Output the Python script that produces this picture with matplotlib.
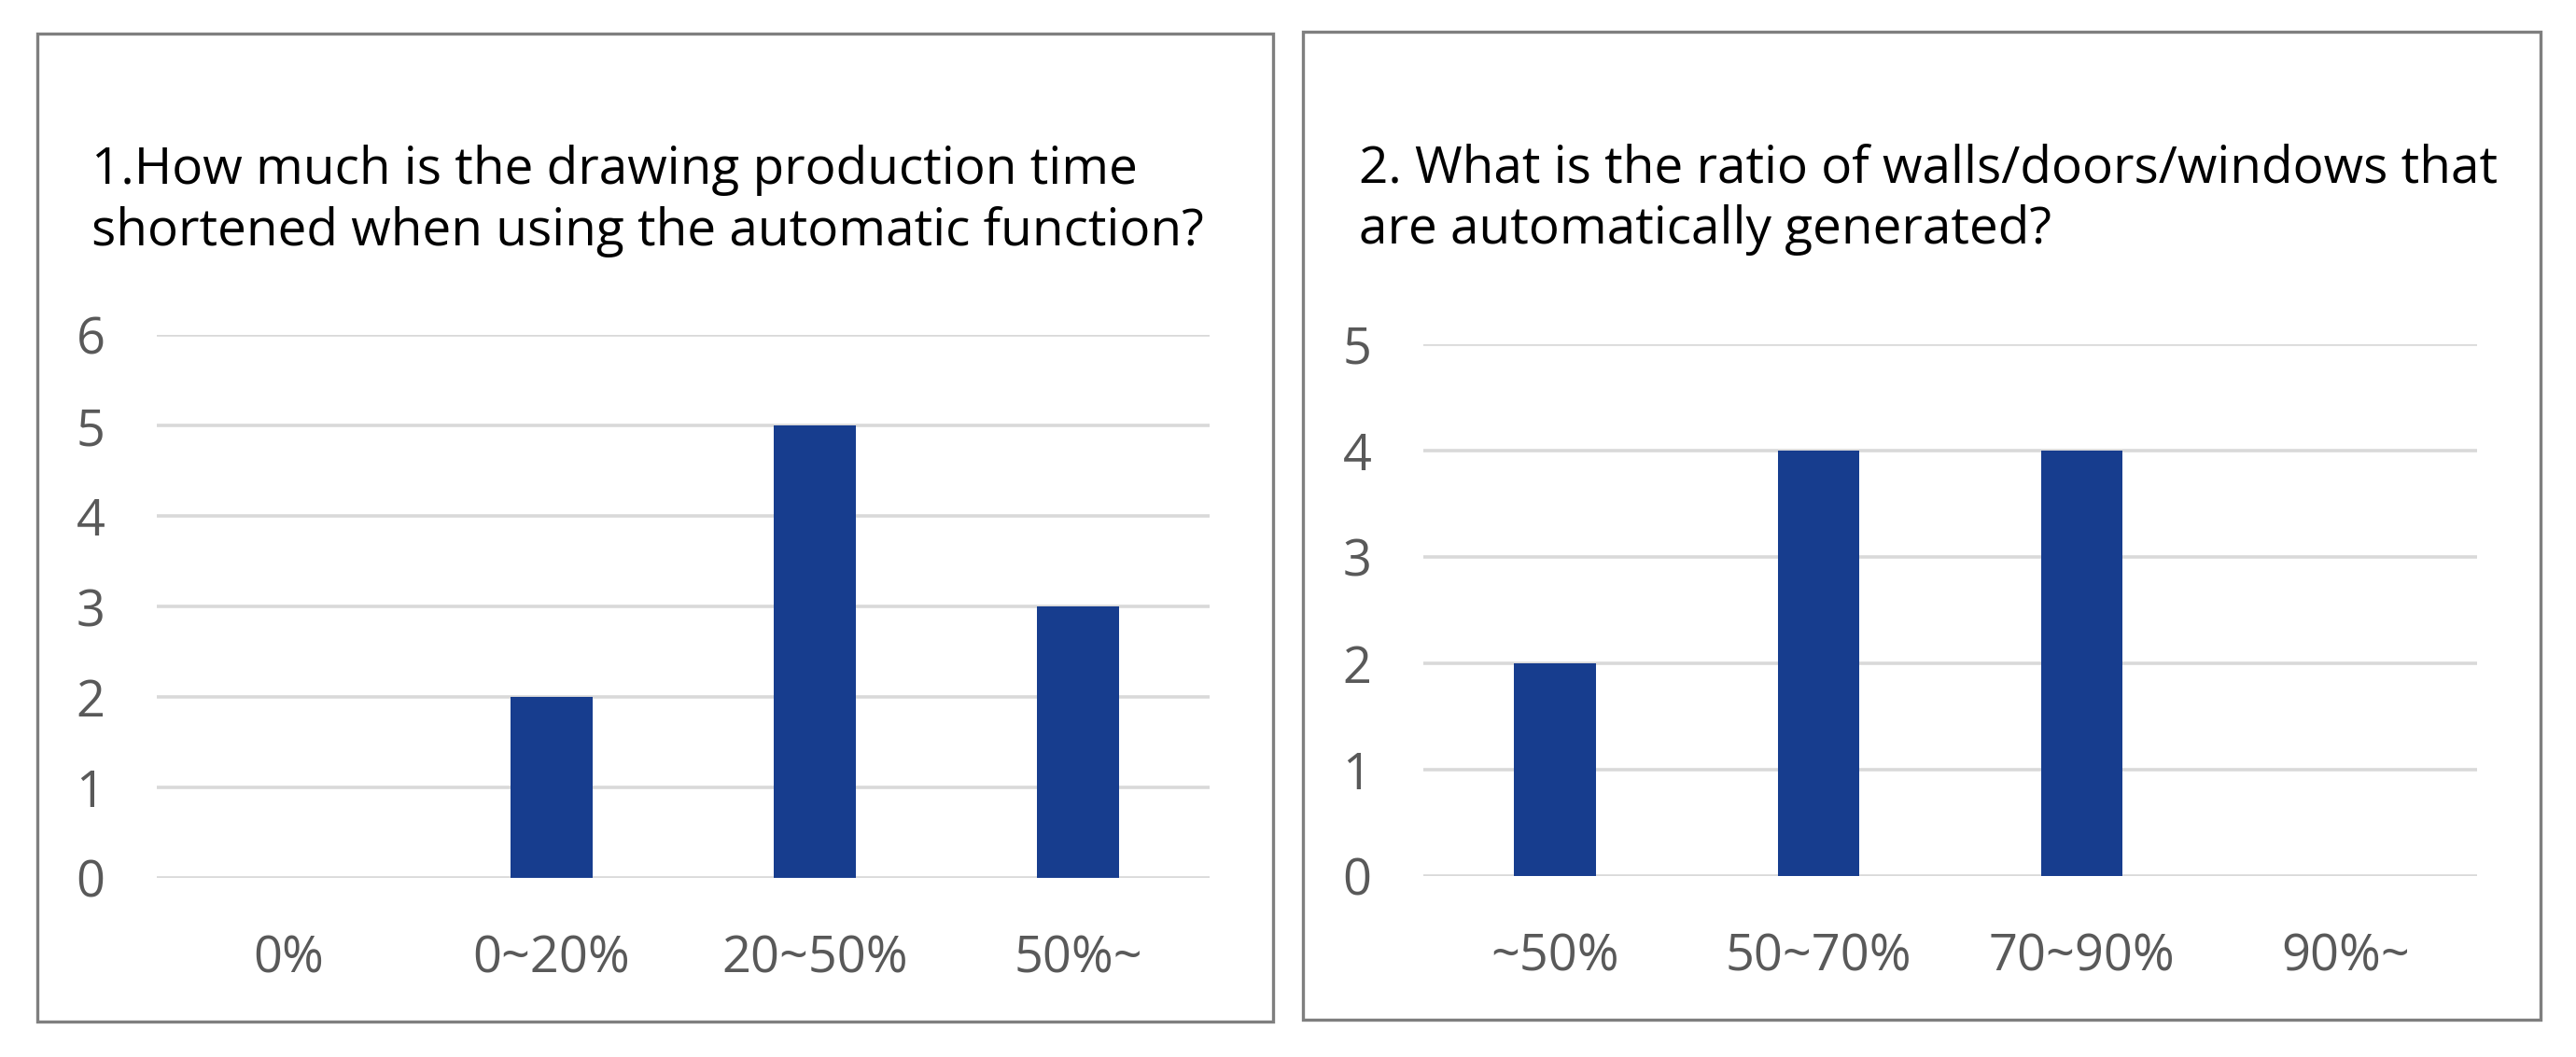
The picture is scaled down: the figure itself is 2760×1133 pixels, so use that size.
import matplotlib
matplotlib.use('Agg')
import matplotlib.pyplot as plt
from matplotlib.patches import Rectangle
import numpy as np

# survey answers
q1_title = ['1.How much is the drawing production time',
            'shortened when using the automatic function?']
q1_labels = ['0%', '0~20%', '20~50%', '50%~']
q1_counts = [0, 2, 5, 3]
q1_ymax = 6

q2_title = ['2. What is the ratio of walls/doors/windows that',
            'are automatically generated?']
q2_labels = ['~50%', '50~70%', '70~90%', '90%~']
q2_counts = [2, 4, 4, 0]
q2_ymax = 5

BAR = '#173D8E'
GRID = '#D9D9D9'
TICK = '#595959'
FONT = ['Open Sans', 'DejaVu Sans']
W, H = 2760, 1133

plt.rcParams['font.family'] = FONT
fig = plt.figure(figsize=(W/100, H/100), dpi=100)


def px(x0, y0, x1, y1):
    # pixel box (top-left origin) -> figure fraction rect
    return [x0/W, 1-y1/H, (x1-x0)/W, (y1-y0)/H]


def panel(box, axbox, title, title_xy, labels, counts, ymax):
    bx0, by0, bx1, by1 = box
    fig.add_artist(Rectangle((bx0/W, 1-by1/H), (bx1-bx0)/W, (by1-by0)/H,
                             transform=fig.transFigure, fill=False,
                             edgecolor='#7F7F7F', lw=2.4, zorder=0))
    tx, ty = title_xy
    for i, line in enumerate(title):
        fig.text(tx/W, 1-(ty+66*i)/H, line, fontsize=39.5, color='black',
                 va='baseline', ha='left')
    ax = fig.add_axes(px(*axbox))
    x = np.arange(len(labels))
    ax.bar(x, counts, width=0.31, color=BAR, zorder=3)
    ax.set_xlim(-0.5, len(labels)-0.5)
    ax.set_ylim(0, ymax)
    ax.set_yticks(range(ymax+1))
    ax.set_xticks(x, labels)
    ax.grid(axis='y', color=GRID, lw=2.6, zorder=0)
    ax.set_axisbelow(True)
    for s in ax.spines.values():
        s.set_visible(False)
    ax.tick_params(axis='both', length=0, labelsize=39, labelcolor=TICK)
    ax.tick_params(axis='y', pad=40)
    ax.tick_params(axis='x', pad=43)
    ax.set_facecolor('none')
    return ax


panel((40, 36, 1364, 1095), (168, 359, 1296, 941), q1_title, (98, 197),
      q1_labels, q1_counts, q1_ymax)
panel((1396, 34, 2722, 1093), (1525, 369, 2654, 939), q2_title, (1456, 195),
      q2_labels, q2_counts, q2_ymax)

fig.savefig('out.png', dpi=100, facecolor='white')
